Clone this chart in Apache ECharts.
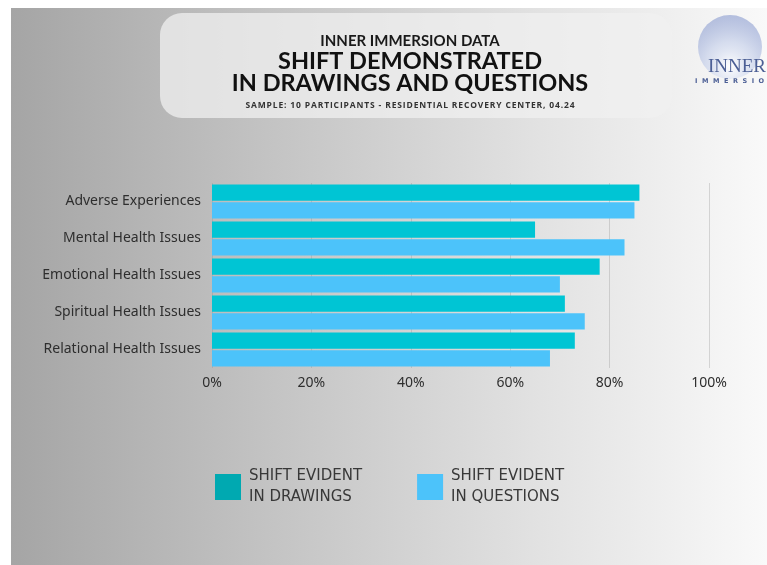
<!DOCTYPE html>
<html>
<head>
<meta charset="utf-8">
<script src="https://cdn.jsdelivr.net/npm/echarts@6/dist/echarts.min.js"></script>
<style>
html,body{margin:0;padding:0;background:#fff;}
#chart{width:767px;height:565px;}
</style>
</head>
<body>
<div id="chart"></div>
<script>
var categories = ['Adverse Experiences', 'Mental Health Issues', 'Emotional Health Issues', 'Spiritual Health Issues', 'Relational Health Issues'];
var drawings = [86, 65, 78, 71, 73];
var questions = [85, 83, 70, 75, 68];
var xTicks = [0, 20, 40, 60, 80, 100];
var seriesNames = ['SHIFT EVIDENT\nIN DRAWINGS', 'SHIFT EVIDENT\nIN QUESTIONS'];
var titleLines = ['INNER IMMERSION DATA', 'SHIFT DEMONSTRATED', 'IN DRAWINGS AND QUESTIONS'];
var subtitle = 'SAMPLE: 10 PARTICIPANTS - RESIDENTIAL RECOVERY CENTER, 04.24';

var chart = echarts.init(document.getElementById('chart'), null, {renderer: 'canvas'});
var option = {
  animation: false,
  backgroundColor: '#ffffff',
  graphic: [
    {type: 'rect', z: -10, shape: {x: 11, y: 8, width: 756, height: 557},
     style: {fill: new echarts.graphic.LinearGradient(0, 0, 1, 0, [
       {offset: 0, color: '#a5a5a5'},
       {offset: 0.35, color: '#c4c4c4'},
       {offset: 0.7, color: '#e2e2e2'},
       {offset: 1, color: '#f9f9f9'}])}},
    {type: 'rect', z: -5, shape: {x: 160, y: 13, width: 512, height: 105, r: 22},
     style: {fill: 'rgba(240,240,240,0.75)'}},
    {type: 'text', z: 5, style: {text: titleLines[0], x: 410, y: 41, align: 'center', verticalAlign: 'middle',
      font: 'bold 15px "Lato", "Open Sans", sans-serif', fill: '#1a1a1a'}},
    {type: 'text', z: 5, style: {text: titleLines[1], x: 410, y: 61, align: 'center', verticalAlign: 'middle',
      font: 'bold 23.5px "Lato", "Open Sans", sans-serif', fill: '#111'}},
    {type: 'text', z: 5, style: {text: titleLines[2], x: 410, y: 83, align: 'center', verticalAlign: 'middle',
      font: 'bold 23.5px "Lato", "Open Sans", sans-serif', fill: '#111'}},
    {type: 'text', z: 5, style: {text: subtitle.split('').join('\u200A'), x: 410, y: 106, align: 'center', verticalAlign: 'middle',
      font: 'bold 8.5px "Open Sans", sans-serif', fill: '#333'}},
    {type: 'circle', z: 5, shape: {cx: 730, cy: 47, r: 32},
     style: {fill: new echarts.graphic.RadialGradient(0.5, 0.8, 0.85, [
       {offset: 0, color: 'rgba(255,255,255,0.95)'},
       {offset: 0.45, color: 'rgba(200,210,235,0.7)'},
       {offset: 1, color: 'rgba(120,140,200,0.55)'}])}},
    {type: 'text', z: 6, style: {text: 'INNER', x: 737, y: 67, align: 'center', verticalAlign: 'middle',
      font: '19px "Liberation Serif", "DejaVu Serif", serif', fill: '#4c5f95'}},
    {type: 'text', z: 6, style: {text: 'I  M  M  E  R  S  I  O  N', x: 695, y: 81, align: 'left', verticalAlign: 'middle',
      font: 'bold 6.5px "DejaVu Sans", sans-serif', fill: '#4c5f95'}}
  ],
  grid: {left: 212, right: 58, top: 183, bottom: 197, containLabel: false},
  xAxis: {
    type: 'value', min: 0, max: 100, interval: 20,
    axisLine: {show: false}, axisTick: {show: false},
    splitLine: {show: true, lineStyle: {color: 'rgba(140,140,140,0.3)', width: 1}},
    axisLabel: {formatter: function (v) { return xTicks.indexOf(v) >= 0 ? v + '%' : ''; },
      color: '#2e2e2e', fontSize: 14, fontFamily: '"Noto Sans", sans-serif', margin: 8}
  },
  yAxis: {
    type: 'category', data: categories, inverse: true,
    axisLine: {show: false}, axisTick: {show: false},
    axisLabel: {color: '#2e2e2e', fontSize: 14, fontFamily: '"Noto Sans", sans-serif', margin: 11}
  },
  legend: {
    left: 210, top: 461, itemWidth: 26, itemHeight: 26, itemGap: 55,
    icon: 'rect',
    textStyle: {color: '#383838', fontSize: 15, lineHeight: 21, fontFamily: '"DejaVu Sans", sans-serif', padding: [0, 0, 0, 3]},
    data: [
      {name: seriesNames[0], itemStyle: {color: '#00a9b1'}},
      {name: seriesNames[1], itemStyle: {color: '#4cc3fa'}}
    ]
  },
  series: [
    {name: seriesNames[0], type: 'bar', data: drawings, barCategoryGap: '8%', barGap: '10%',
     itemStyle: {color: '#00c5d4'}},
    {name: seriesNames[1], type: 'bar', data: questions, barCategoryGap: '8%', barGap: '10%',
     itemStyle: {color: '#4cc3fa'}}
  ]
};
chart.setOption(option);
</script>
</body>
</html>
